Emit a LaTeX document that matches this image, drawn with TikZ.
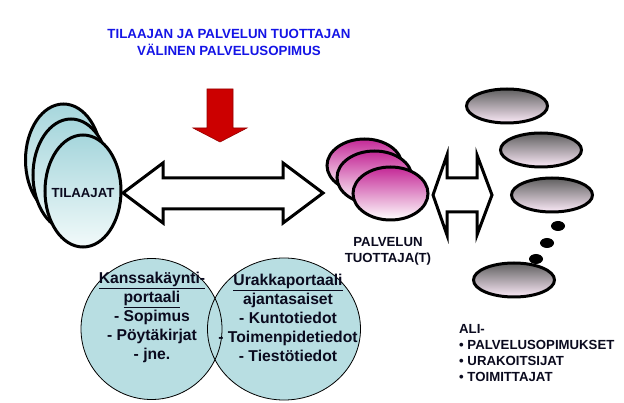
\documentclass[tikz,border=0pt]{standalone}
\usepackage{fontspec}
\setmainfont{Liberation Sans}
\usetikzlibrary{shapes.geometric}
\definecolor{titleblue}{RGB}{20,20,230}
\definecolor{arrowred}{RGB}{204,0,0}
\definecolor{arrowdark}{RGB}{150,0,0}
\definecolor{lightcyan}{RGB}{166,214,220}
\definecolor{palecyan}{RGB}{242,250,250}
\definecolor{circblue}{RGB}{184,222,226}
\definecolor{magentatop}{RGB}{196,40,150}
\definecolor{graytop}{RGB}{96,96,96}
\definecolor{pinkbot}{RGB}{252,234,248}
\definecolor{textdark}{RGB}{10,10,30}
\begin{document}
\begin{tikzpicture}[x=1pt,y=-1pt,
  tilaajaell/.style={ellipse, draw=black, line width=3pt, top color=lightcyan, bottom color=palecyan,
     minimum width=76pt, minimum height=112pt, inner sep=0pt},
  pinkell/.style={ellipse, draw=black, line width=3pt, top color=magentatop, bottom color=white,
     minimum width=75pt, minimum height=53pt, inner sep=0pt},
  grayell/.style={ellipse, draw=black, line width=3pt, top color=graytop, bottom color=pinkbot,
     minimum width=81pt, minimum height=34pt, inner sep=0pt},
  blackdot/.style={ellipse, fill=black, minimum width=14pt, minimum height=10pt, inner sep=0pt},
  portalfill/.style={ellipse, fill=circblue, inner sep=0pt},
  portalline/.style={ellipse, draw=black, line width=0.8pt, inner sep=0pt},
  bigarrow/.style={draw=black, fill=white, line width=3pt, line join=miter},
  labeltext/.style={text=textdark, font=\fontsize{13.2}{16}\selectfont\bfseries, align=center, inner sep=0pt},
  portaltext/.style={text=textdark, font=\fontsize{15.7}{19}\selectfont\bfseries, align=center, inner sep=0pt}
]
\useasboundingbox (0,0) rectangle (624,403);
\fill[white] (0,0) rectangle (624,403);

% title
\node[text=titleblue, font=\fontsize{13.3}{17}\selectfont\bfseries, align=center, inner sep=0pt] (title) at (229,42.5)
  {TILAAJAN JA PALVELUN TUOTTAJAN\\VÄLINEN PALVELUSOPIMUS};

% red down arrow
\draw[fill=arrowred, draw=arrowdark, line width=0.6pt, line join=miter]
  (207,89) -- (233,89) -- (233,128) -- (247,128) -- (220,142) -- (193,128) -- (207,128) -- cycle;

% tilaajat ellipses
\node[tilaajaell] (t1) at (63.5,160) {};
\node[tilaajaell] (t2) at (71,175) {};
\node[tilaajaell] (t3) at (83,191) {};
\node[labeltext] (tilaajat) at (83,193) {TILAAJAT};

% big double arrow
\draw[bigarrow] (123,193) -- (163,163) -- (163,178) -- (283,178) -- (283,163) -- (323,193)
  -- (283,223) -- (283,209) -- (163,209) -- (163,223) -- cycle;

% palvelun tuottaja ellipses
\node[pinkell] (p1) at (364.5,165.5) {};
\node[pinkell] (p2) at (374.5,177.5) {};
\node[pinkell] (p3) at (390.5,193.5) {};
\node[labeltext] (tuottaja) at (388,251) {PALVELUN\\TUOTTAJA(T)};

% small double arrow
\draw[bigarrow] (433,195) -- (447,155) -- (447,178) -- (477,178) -- (477,155) -- (492,195)
  -- (477,235) -- (477,212) -- (447,212) -- (447,235) -- cycle;

% sub-contract ellipses
\node[grayell] (g1) at (507,106) {};
\node[grayell] (g2) at (541,150) {};
\node[grayell] (g3) at (552,195) {};
\node[blackdot] (d1) at (558,226) {};
\node[blackdot] (d2) at (547,243) {};
\node[blackdot] (d3) at (536,259) {};
\node[grayell] (g4) at (514,280) {};

% portals
\node[portalfill, minimum width=141pt, minimum height=141pt] (kf) at (151.5,329) {};
\node[portalfill, minimum width=153pt, minimum height=142pt] (uf) at (284,329) {};
\node[portalline, minimum width=141pt, minimum height=141pt] (kl) at (kf) {};
\node[portalline, minimum width=153pt, minimum height=142pt] (ul) at (uf) {};
\node[portaltext] (ktext) at (152,317.5)
  {\underline{Kanssakäynti-}\\\underline{portaali}\\- Sopimus\\- Pöytäkirjat\\- jne.};
\node[portaltext] (utext) at (288,317.5)
  {\underline{Urakkaportaali}\\ajantasaiset\\- Kuntotiedot\\- Toimenpidetiedot\\- Tiestötiedot};

% sub list
\node[labeltext, align=left, anchor=west] (ali) at (459,353)
  {ALI-\\• PALVELUSOPIMUKSET\\• URAKOITSIJAT\\• TOIMITTAJAT};
\end{tikzpicture}
\end{document}
